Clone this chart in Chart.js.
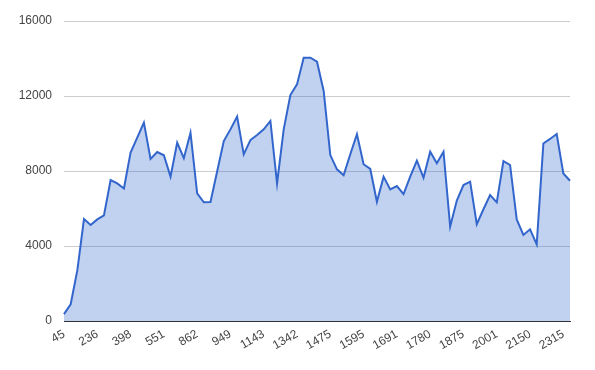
<!DOCTYPE html>
<html>
<head>
<meta charset="utf-8">
<script src="https://cdn.jsdelivr.net/npm/chart.js@4"></script>
<style>
    html, body { margin: 0; padding: 0; background: #fff; }
    #wrap { width: 595px; height: 370px; position: relative; }
</style>
</head>
<body>
<div id="wrap"><canvas id="chart"></canvas></div>
<script>
// Series values, one per category (77 points)
const seriesValues = [
    370, 890, 2700, 5440, 5120, 5420, 5630, 7520, 7340, 7070,
    8980, 9780, 10580, 8640, 9010, 8840, 7700, 9510, 8680, 10040,
    6810, 6330, 6350, 7970, 9600, 10220, 10900, 8890, 9650, 9920,
    10220, 10670, 7340, 10220, 12050, 12620, 14040, 14040, 13830, 12270,
    8850, 8090, 7770, 8890, 9960, 8360, 8110, 6360, 7700, 7020,
    7200, 6770, 7700, 8550, 7640, 9030, 8410, 9030, 5030, 6420,
    7250, 7430, 5160, 5960, 6720, 6330, 8530, 8320, 5420, 4590,
    4890, 4090, 9470, 9710, 9970, 7870, 7480
];

// Tick labels shown on the x axis, one every 5 categories
const tickLabels = ['45', '236', '398', '551', '862', '949', '1143', '1342',
    '1475', '1595', '1691', '1780', '1875', '2001', '2150', '2315'];
const tickStep = 5;

// Categories: the known label where one is shown, otherwise the index
const categories = seriesValues.map((v, i) =>
    i % tickStep === 0 && tickLabels[i / tickStep] ? tickLabels[i / tickStep] : String(i));

const yTicks = [0, 4000, 8000, 12000, 16000];

const font = { family: 'Arial, "Liberation Sans", sans-serif', size: 12 };

new Chart(document.getElementById('chart').getContext('2d'), {
    type: 'line',
    data: {
        labels: categories,
        datasets: [{
            data: seriesValues,
            borderColor: '#3366cc',
            backgroundColor: 'rgba(51, 102, 204, 0.3)',
            borderWidth: 2,
            fill: 'origin',
            tension: 0,
            pointRadius: 0,
            pointHoverRadius: 0
        }]
    },
    options: {
        responsive: true,
        maintainAspectRatio: false,
        animation: false,
        layout: { padding: { top: 21, right: 25, left: 0, bottom: 0 } },
        scales: {
            x: {
                offset: false,
                grid: { display: false, drawTicks: false },
                border: { display: true, color: '#333333', width: 1 },
                ticks: {
                    autoSkip: false,
                    minRotation: 30,
                    maxRotation: 30,
                    padding: 6,
                    color: '#444444',
                    font: font,
                    callback: (value, index) =>
                        index % tickStep === 0 ? tickLabels[index / tickStep] : ''
                },
                afterFit: axis => { axis.height = 49; }
            },
            y: {
                min: 0,
                max: 16000,
                grid: { color: '#cccccc', drawTicks: false },
                border: { display: false },
                afterBuildTicks: axis => {
                    axis.ticks = yTicks.map(v => ({ value: v }));
                },
                ticks: {
                    padding: 12,
                    color: '#444444',
                    font: font,
                    callback: value => String(value)
                },
                afterFit: axis => { axis.width = 64; }
            }
        },
        plugins: {
            legend: { display: false },
            tooltip: { enabled: false }
        }
    }
});
</script>
</body>
</html>
